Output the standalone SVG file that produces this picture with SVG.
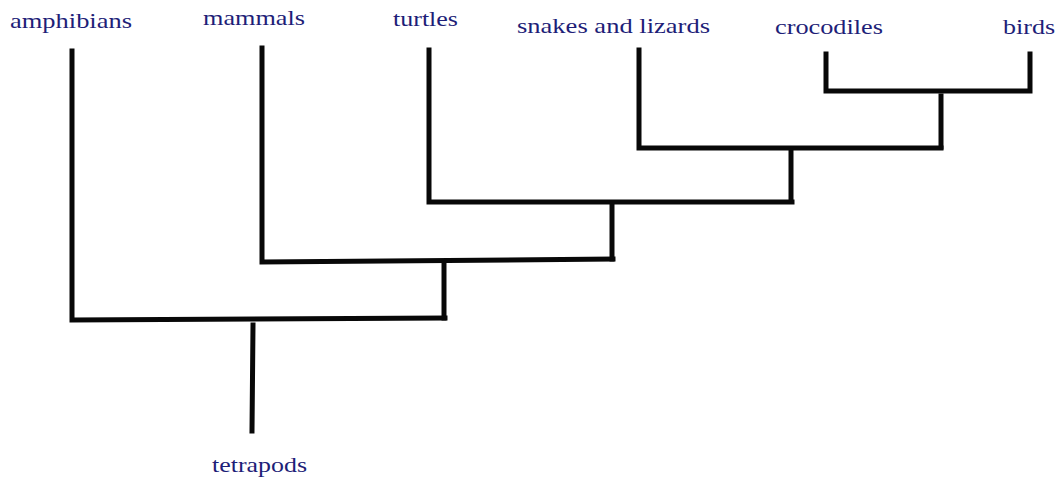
<svg xmlns="http://www.w3.org/2000/svg" width="1064" height="482" viewBox="0 0 1064 482">
  <style>
    .label { font-family: "Liberation Serif", "Times New Roman", serif; font-size: 22px; fill: #1e1e78; }
    .branch { stroke: #080808; stroke-width: 5; fill: none; stroke-linecap: square; stroke-linejoin: miter; }
  </style>
  <rect width="1064" height="482" fill="#ffffff"/>

  <!-- taxa (labels set wide, horizontally stretched serif) -->
  <g id="amphibians"><text class="label" x="10" y="28" textLength="122" lengthAdjust="spacingAndGlyphs">amphibians</text></g>
  <g id="mammals"><text class="label" x="203" y="25" textLength="102" lengthAdjust="spacingAndGlyphs">mammals</text></g>
  <g id="turtles"><text class="label" x="393" y="26" textLength="65" lengthAdjust="spacingAndGlyphs">turtles</text></g>
  <g id="snakes-lizards"><text class="label" x="517" y="33" textLength="193" lengthAdjust="spacingAndGlyphs">snakes and lizards</text></g>
  <g id="crocodiles"><text class="label" x="775" y="34" textLength="108" lengthAdjust="spacingAndGlyphs">crocodiles</text></g>
  <g id="birds"><text class="label" x="1003" y="34" textLength="52" lengthAdjust="spacingAndGlyphs">birds</text></g>
  <g id="tetrapods"><text class="label" x="212" y="472" textLength="95" lengthAdjust="spacingAndGlyphs">tetrapods</text></g>

  <!-- tree branches -->
  <g id="connectors">
    <!-- crocodiles + birds -->
    <path class="branch" d="M826 54 V91 H1030 V54"/>
    <path class="branch" d="M941 96 V147"/>
    <!-- snakes and lizards join -->
    <path class="branch" d="M639 50 V148 H941"/>
    <path class="branch" d="M791 151 V201"/>
    <!-- turtles join -->
    <path class="branch" d="M429 50 V202 H792"/>
    <path class="branch" d="M612 206 V259"/>
    <!-- mammals join -->
    <path class="branch" d="M262 48 V262 L613 259"/>
    <path class="branch" d="M444 264 V318"/>
    <!-- amphibians join -->
    <path class="branch" d="M72 51 V320 L445 318"/>
    <!-- root stem -->
    <path class="branch" d="M253 325 L252 431"/>
  </g>
</svg>
